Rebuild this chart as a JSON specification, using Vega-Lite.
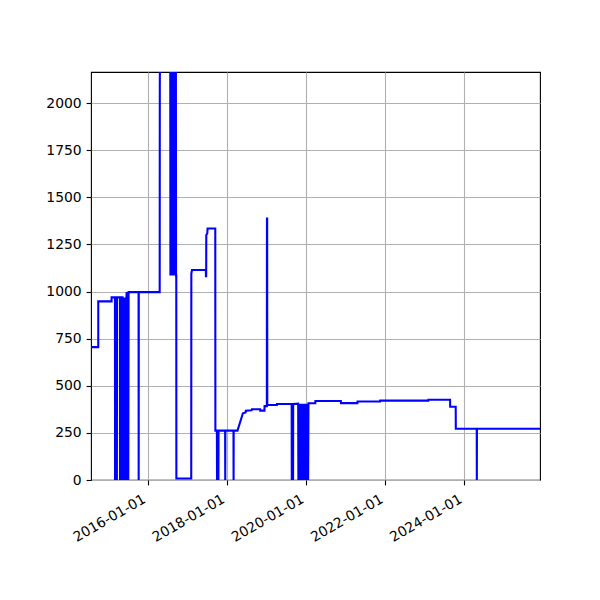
{
  "$schema": "https://vega.github.io/schema/vega-lite/v6.json",
  "autosize": {"type": "none"},
  "padding": {"left": 91, "top": 72, "right": 60, "bottom": 120},
  "width": 449,
  "height": 408,
  "background": "white",
  "config": {
    "view": {"stroke": "black", "strokeWidth": 1.1},
    "axis": {
      "labelFont": "DejaVu Sans",
      "labelFontSize": 13.9,
      "labelColor": "black",
      "tickColor": "black",
      "tickSize": 4.9,
      "tickWidth": 1.1,
      "labelPadding": 4.9,
      "domain": false,
      "grid": true,
      "gridColor": "#b0b0b0",
      "gridWidth": 1.1,
      "title": null
    }
  },
  "data": {
    "values": [
      {"i": 1, "date": "2014-07-28", "value": 705},
      {"i": 2, "date": "2014-10-03", "value": 705},
      {"i": 3, "date": "2014-10-03", "value": 948},
      {"i": 4, "date": "2015-02-03", "value": 948},
      {"i": 5, "date": "2015-02-03", "value": 969},
      {"i": 6, "date": "2015-03-06", "value": 969},
      {"i": 7, "date": "2015-03-07", "value": 0},
      {"i": 8, "date": "2015-03-24", "value": 0},
      {"i": 9, "date": "2015-03-25", "value": 969},
      {"i": 10, "date": "2015-04-21", "value": 969},
      {"i": 11, "date": "2015-04-22", "value": 0},
      {"i": 12, "date": "2015-05-02", "value": 0},
      {"i": 13, "date": "2015-05-03", "value": 969},
      {"i": 14, "date": "2015-05-15", "value": 969},
      {"i": 15, "date": "2015-05-18", "value": 0},
      {"i": 16, "date": "2015-05-21", "value": 969},
      {"i": 17, "date": "2015-05-24", "value": 0},
      {"i": 18, "date": "2015-05-27", "value": 969},
      {"i": 19, "date": "2015-05-30", "value": 0},
      {"i": 20, "date": "2015-06-02", "value": 969},
      {"i": 21, "date": "2015-06-05", "value": 0},
      {"i": 22, "date": "2015-06-08", "value": 969},
      {"i": 23, "date": "2015-06-11", "value": 0},
      {"i": 24, "date": "2015-06-14", "value": 969},
      {"i": 25, "date": "2015-06-17", "value": 0},
      {"i": 26, "date": "2015-06-20", "value": 969},
      {"i": 27, "date": "2015-06-22", "value": 997},
      {"i": 28, "date": "2015-06-25", "value": 0},
      {"i": 29, "date": "2015-06-28", "value": 997},
      {"i": 30, "date": "2015-07-01", "value": 0},
      {"i": 31, "date": "2015-07-04", "value": 997},
      {"i": 32, "date": "2015-07-07", "value": 0},
      {"i": 33, "date": "2015-07-10", "value": 997},
      {"i": 34, "date": "2015-10-10", "value": 997},
      {"i": 35, "date": "2015-10-11", "value": 0},
      {"i": 36, "date": "2015-10-12", "value": 997},
      {"i": 37, "date": "2016-04-22", "value": 997},
      {"i": 38, "date": "2016-04-23", "value": 2085},
      {"i": 39, "date": "2016-04-28", "value": 2600},
      {"i": 40, "date": "2016-07-28", "value": 2600},
      {"i": 41, "date": "2016-07-30", "value": 1085},
      {"i": 42, "date": "2016-08-01", "value": 2600},
      {"i": 43, "date": "2016-08-03", "value": 1085},
      {"i": 44, "date": "2016-08-05", "value": 2600},
      {"i": 45, "date": "2016-08-07", "value": 1085},
      {"i": 46, "date": "2016-08-09", "value": 2600},
      {"i": 47, "date": "2016-08-11", "value": 1085},
      {"i": 48, "date": "2016-08-13", "value": 2600},
      {"i": 49, "date": "2016-08-15", "value": 1085},
      {"i": 50, "date": "2016-08-17", "value": 2600},
      {"i": 51, "date": "2016-08-19", "value": 1085},
      {"i": 52, "date": "2016-08-21", "value": 2600},
      {"i": 53, "date": "2016-08-23", "value": 1085},
      {"i": 54, "date": "2016-08-25", "value": 2600},
      {"i": 55, "date": "2016-08-27", "value": 1085},
      {"i": 56, "date": "2016-08-29", "value": 2600},
      {"i": 57, "date": "2016-08-31", "value": 1085},
      {"i": 58, "date": "2016-09-02", "value": 2600},
      {"i": 59, "date": "2016-09-04", "value": 1085},
      {"i": 60, "date": "2016-09-06", "value": 2600},
      {"i": 61, "date": "2016-09-08", "value": 1085},
      {"i": 62, "date": "2016-09-10", "value": 2600},
      {"i": 63, "date": "2016-09-12", "value": 1085},
      {"i": 64, "date": "2016-09-14", "value": 2600},
      {"i": 65, "date": "2016-09-16", "value": 1085},
      {"i": 66, "date": "2016-09-18", "value": 2600},
      {"i": 67, "date": "2016-09-20", "value": 1085},
      {"i": 68, "date": "2016-09-22", "value": 1085},
      {"i": 69, "date": "2016-09-23", "value": 8},
      {"i": 70, "date": "2017-02-07", "value": 8},
      {"i": 71, "date": "2017-02-08", "value": 1095},
      {"i": 72, "date": "2017-02-14", "value": 1114},
      {"i": 73, "date": "2017-06-22", "value": 1114},
      {"i": 74, "date": "2017-06-23", "value": 1082},
      {"i": 75, "date": "2017-06-25", "value": 1082},
      {"i": 76, "date": "2017-06-26", "value": 1300},
      {"i": 77, "date": "2017-07-05", "value": 1308},
      {"i": 78, "date": "2017-07-08", "value": 1335},
      {"i": 79, "date": "2017-09-17", "value": 1335},
      {"i": 80, "date": "2017-09-18", "value": 262},
      {"i": 81, "date": "2017-10-02", "value": 262},
      {"i": 82, "date": "2017-10-03", "value": 0},
      {"i": 83, "date": "2017-10-16", "value": 0},
      {"i": 84, "date": "2017-10-17", "value": 262},
      {"i": 85, "date": "2017-12-17", "value": 262},
      {"i": 86, "date": "2017-12-18", "value": 0},
      {"i": 87, "date": "2017-12-19", "value": 262},
      {"i": 88, "date": "2018-03-04", "value": 262},
      {"i": 89, "date": "2018-03-05", "value": 0},
      {"i": 90, "date": "2018-03-06", "value": 262},
      {"i": 91, "date": "2018-04-10", "value": 262},
      {"i": 92, "date": "2018-05-30", "value": 354},
      {"i": 93, "date": "2018-06-24", "value": 358},
      {"i": 94, "date": "2018-06-26", "value": 368},
      {"i": 95, "date": "2018-08-18", "value": 370},
      {"i": 96, "date": "2018-08-21", "value": 375},
      {"i": 97, "date": "2018-11-05", "value": 375},
      {"i": 98, "date": "2018-11-06", "value": 368},
      {"i": 99, "date": "2018-12-15", "value": 368},
      {"i": 100, "date": "2018-12-16", "value": 392},
      {"i": 101, "date": "2019-01-06", "value": 392},
      {"i": 102, "date": "2019-01-07", "value": 1388},
      {"i": 103, "date": "2019-01-09", "value": 1388},
      {"i": 104, "date": "2019-01-10", "value": 398},
      {"i": 105, "date": "2019-04-08", "value": 398},
      {"i": 106, "date": "2019-04-09", "value": 403},
      {"i": 107, "date": "2019-08-23", "value": 403},
      {"i": 108, "date": "2019-08-24", "value": 0},
      {"i": 109, "date": "2019-09-05", "value": 0},
      {"i": 110, "date": "2019-09-06", "value": 403},
      {"i": 111, "date": "2019-10-22", "value": 405},
      {"i": 112, "date": "2019-10-24", "value": 0},
      {"i": 113, "date": "2019-10-27", "value": 405},
      {"i": 114, "date": "2019-10-30", "value": 0},
      {"i": 115, "date": "2019-11-02", "value": 405},
      {"i": 116, "date": "2019-11-05", "value": 0},
      {"i": 117, "date": "2019-11-08", "value": 405},
      {"i": 118, "date": "2019-11-11", "value": 0},
      {"i": 119, "date": "2019-11-14", "value": 405},
      {"i": 120, "date": "2019-11-17", "value": 0},
      {"i": 121, "date": "2019-11-20", "value": 405},
      {"i": 122, "date": "2019-11-23", "value": 0},
      {"i": 123, "date": "2019-11-26", "value": 405},
      {"i": 124, "date": "2019-11-29", "value": 0},
      {"i": 125, "date": "2019-12-02", "value": 405},
      {"i": 126, "date": "2019-12-05", "value": 0},
      {"i": 127, "date": "2019-12-08", "value": 405},
      {"i": 128, "date": "2019-12-11", "value": 0},
      {"i": 129, "date": "2019-12-14", "value": 405},
      {"i": 130, "date": "2019-12-17", "value": 0},
      {"i": 131, "date": "2019-12-20", "value": 405},
      {"i": 132, "date": "2019-12-23", "value": 0},
      {"i": 133, "date": "2019-12-26", "value": 405},
      {"i": 134, "date": "2019-12-29", "value": 0},
      {"i": 135, "date": "2020-01-01", "value": 405},
      {"i": 136, "date": "2020-01-04", "value": 0},
      {"i": 137, "date": "2020-01-07", "value": 405},
      {"i": 138, "date": "2020-01-10", "value": 0},
      {"i": 139, "date": "2020-01-13", "value": 405},
      {"i": 140, "date": "2020-01-16", "value": 0},
      {"i": 141, "date": "2020-01-19", "value": 405},
      {"i": 142, "date": "2020-01-22", "value": 0},
      {"i": 143, "date": "2020-01-25", "value": 407},
      {"i": 144, "date": "2020-03-28", "value": 407},
      {"i": 145, "date": "2020-03-29", "value": 419},
      {"i": 146, "date": "2020-11-19", "value": 419},
      {"i": 147, "date": "2020-11-20", "value": 408},
      {"i": 148, "date": "2021-04-21", "value": 408},
      {"i": 149, "date": "2021-04-22", "value": 417},
      {"i": 150, "date": "2021-11-16", "value": 417},
      {"i": 151, "date": "2021-11-17", "value": 421},
      {"i": 152, "date": "2023-02-04", "value": 421},
      {"i": 153, "date": "2023-02-05", "value": 426},
      {"i": 154, "date": "2023-08-24", "value": 426},
      {"i": 155, "date": "2023-08-25", "value": 389},
      {"i": 156, "date": "2023-10-15", "value": 389},
      {"i": 157, "date": "2023-10-16", "value": 272},
      {"i": 158, "date": "2024-04-26", "value": 272},
      {"i": 159, "date": "2024-04-27", "value": 0},
      {"i": 160, "date": "2024-04-28", "value": 272},
      {"i": 161, "date": "2025-12-01", "value": 272}
    ]
  },
  "mark": {"type": "line", "color": "#0000ff", "strokeWidth": 2.08, "clip": true},
  "encoding": {
    "x": {
      "field": "date",
      "type": "temporal",
      "scale": {
        "type": "utc",
        "domain": [
          {"year": 2014, "month": 7, "date": 28, "utc": true},
          {"year": 2025, "month": 12, "date": 1, "utc": true}
        ]
      },
      "axis": {
        "values": [
          {"year": 2016, "month": 1, "date": 1, "utc": true},
          {"year": 2018, "month": 1, "date": 1, "utc": true},
          {"year": 2020, "month": 1, "date": 1, "utc": true},
          {"year": 2022, "month": 1, "date": 1, "utc": true},
          {"year": 2024, "month": 1, "date": 1, "utc": true}
        ],
        "format": "%Y-%m-%d",
        "labelAngle": -30,
        "labelAlign": "right",
        "labelBaseline": "top",
        "labelOffset": -7,
        "labelPadding": 7,
        "labelOverlap": false,
        "labelFlush": false
      }
    },
    "y": {
      "field": "value",
      "type": "quantitative",
      "scale": {"domain": [0, 2165], "nice": false},
      "axis": {"values": [0, 250, 500, 750, 1000, 1250, 1500, 1750, 2000], "format": "d"}
    },
    "order": {"field": "i"}
  }
}
